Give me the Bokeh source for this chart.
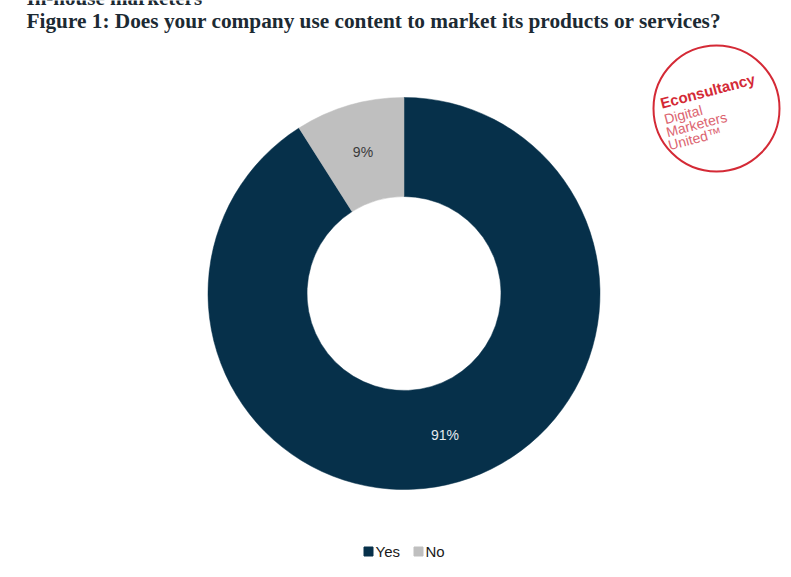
import math
from bokeh.plotting import figure
from bokeh.models import Range1d, ColumnDataSource
from bokeh.core.properties import value
from bokeh.embed import file_html
from bokeh.resources import INLINE

# Survey answers (percent of respondents)
categories = ["Yes", "No"]
shares = [91, 9]
colors = ["#06304a", "#bfbfbf"]
label_colors = ["#e4eaee", "#3a3a3a"]

title_text = "Figure 1: Does your company use content to market its products or services?"
heading_text = "In-house marketers"

W, H = 791, 577
p = figure(width=W, height=H, output_backend="svg", toolbar_location=None,
           x_range=Range1d(0, W), y_range=Range1d(0, H),
           min_border=0, outline_line_color=None, background_fill_color="white",
           border_fill_color="white")
p.axis.visible = False
p.grid.visible = False

def Y(py):
    return H - py

# donut geometry (screen pixels)
cx, cy = 403.5, 293
r_out, r_in = 196, 97

# slices run clockwise from 12 o'clock
total = float(sum(shares))
starts, ends, mids = [], [], []
acc = 0.0
for s in shares:
    a0 = math.pi / 2 - 2 * math.pi * acc / total
    a1 = math.pi / 2 - 2 * math.pi * (acc + s) / total
    starts.append(a1)
    ends.append(a0)
    mids.append((a0 + a1) / 2)
    acc += s

src = ColumnDataSource(dict(cat=categories, val=shares, start=starts, end=ends,
                            color=colors,
                            lx=[cx + 147 * math.cos(m) for m in mids],
                            ly=[Y(cy) + 147 * math.sin(m) for m in mids],
                            lab=[f"{v}%" for v in shares],
                            lcol=label_colors))

p.annular_wedge(x=cx, y=Y(cy), inner_radius=r_in, outer_radius=r_out,
                start_angle="start", end_angle="end", direction="anticlock",
                fill_color="color", line_color="color", line_width=0.5, source=src)

p.text(x="lx", y="ly", text="lab", text_color="lcol", source=src,
       text_font=value("Liberation Sans"), text_font_size="14px",
       text_align="center", text_baseline="middle")

# heading (runs off the top edge) and figure title
p.text(x=[26], y=[Y(-3)], text=[heading_text], text_font=value("Liberation Serif"),
       text_font_size="21px", text_font_style="bold", text_color="#1c2a33",
       text_baseline="alphabetic")
p.text(x=[26], y=[Y(20)], text=[title_text], text_font=value("Liberation Serif"),
       text_font_size="21.3px", text_font_style="bold", text_color="#1c2a33",
       text_baseline="middle")

# legend
leg_x = [368, 418]
leg_y = [Y(551)] * 2
p.scatter(x=leg_x, y=leg_y, marker="square", size=9, fill_color=colors,
          line_color=colors)
p.text(x=[lx + 7 for lx in leg_x], y=leg_y, text=categories,
       text_font=value("Liberation Sans"), text_font_size="15px",
       text_color="#1a1a1a", text_baseline="middle")

# Econsultancy badge
red = "#d42a36"
pink = "#dc6470"
p.circle(x=[716], y=[Y(108)], radius=63, fill_color=None, line_color=red,
         line_width=2)
ang = 0.26
p.text(x=[660], y=[Y(103)], text=["Econsultancy"], angle=ang,
       text_font=value("Liberation Sans"), text_font_size="15px",
       text_font_style="bold", text_color=red, text_baseline="alphabetic")
for txt, bx, by in [("Digital", 664, 119), ("Marketers", 666, 132), ("United\u2122", 668, 145)]:
    p.text(x=[bx], y=[Y(by)], text=[txt], angle=ang,
           text_font=value("Liberation Sans"), text_font_size="14px",
           text_color=pink, text_baseline="alphabetic")

open("out.html", "w").write(file_html(p, INLINE))
